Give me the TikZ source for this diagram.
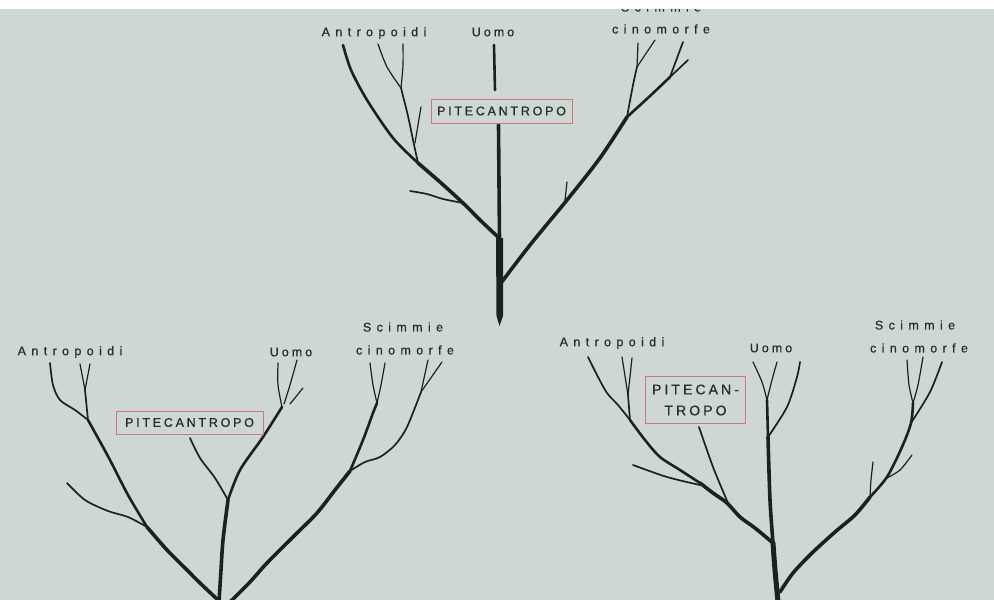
\documentclass[tikz,border=0pt]{standalone}
\usepackage{fontspec}
\newfontfamily\lblfont[LetterSpace=43,FakeBold=0.7]{Liberation Sans}
\newfontfamily\uomofont[LetterSpace=24,FakeBold=0.7]{Liberation Sans}
\newfontfamily\boxfont[LetterSpace=22,FakeBold=0.7]{Liberation Sans}
\definecolor{bg}{RGB}{206,215,211}
\definecolor{ink}{RGB}{26,34,31}
\definecolor{txt}{RGB}{40,45,43}
\definecolor{boxc}{RGB}{205,120,128}
\tikzset{
  trunkline/.style={draw=ink,line width=5pt,line cap=round,line join=round},
  limb/.style={draw=ink,line width=3.6pt,line cap=round,line join=round},
  bough/.style={draw=ink,line width=2.6pt,line cap=round,line join=round},
  twig/.style={draw=ink,line width=1.7pt,line cap=round,line join=round},
  tipline/.style={draw=ink,line width=1.2pt,line cap=round,line join=round},
  lbl/.style={inner sep=0pt,text=txt,font=\lblfont\fontsize{12.5}{14}\selectfont},
  ulbl/.style={inner sep=0pt,text=txt,font=\uomofont\fontsize{12.5}{14}\selectfont},
  pbox/.style={draw=boxc,line width=0.9pt,fill=bg,text=txt,inner sep=0pt,font=\boxfont\fontsize{12.5}{14}\selectfont,align=center}
}
\begin{document}
\begin{tikzpicture}[x=1pt,y=-1pt]
\useasboundingbox (0,0) rectangle (994,600);
\fill[bg] (0,0) rectangle (994,600);

% ---------------- top tree ----------------
\fill[ink] (496,238) -- (496.5,316) -- (499.5,326) -- (503,316) -- (503,238) -- cycle;
\draw[limb] (499.5,240) -- (498.5,125);
\draw[bough] (495,90) -- (494,45);
% right
\draw[limb] plot[smooth] coordinates {(501,283) (530,245) (567,200) (600,158) (627,117)};
\draw[bough] plot[smooth] coordinates {(627,117) (650,96) (670,77)};
\draw[twig] (670,77) -- (683,42);
\draw[twig] (670,77) -- (688,60);
\draw[twig] plot[smooth] coordinates {(627,117) (633,85) (637,67)};
\draw[tipline] (637,67) -- (638,43);
\draw[tipline] (637,67) -- (655,40);
\draw[tipline] (565,200) -- (567,182);
% left
\draw[limb] plot[smooth] coordinates {(498,237) (480,220) (463,203) (440,182) (418,163)};
\draw[bough] plot[smooth] coordinates {(418,163) (393,138) (367,100) (351,70) (343,45)};
\draw[twig] plot[smooth] coordinates {(463,203) (443,199) (427,194) (410,191)};
\draw[twig] plot[smooth] coordinates {(418,163) (413,140) (408,116) (401,88)};
\draw[tipline] plot[smooth] coordinates {(401,88) (403,65) (403,44)};
\draw[tipline] plot[smooth] coordinates {(401,88) (387,67) (378,44)};
\draw[tipline] plot[smooth] coordinates {(415,143) (418,125) (421,107)};

\node[pbox,minimum width=141pt,minimum height=24pt] (p1) at (501.5,111) {PITECANTROPO};
\node[lbl] (a1) at (374,33) {Antropoidi};
\node[ulbl] (u1) at (493,32) {Uomo};
\node[lbl] (s1) at (661,7) {Scimmie};
\node[lbl] (c1) at (661,29) {cinomorfe};
\fill[white] (0,0) rectangle (994,9);

% ---------------- bottom-left tree ----------------
\draw[limb] plot[smooth] coordinates {(218,600) (200,583) (187,570) (167,550) (147,527)};
\draw[bough] plot[smooth] coordinates {(147,527) (128,495) (110,460) (98,438) (88,420)};
\draw[twig] plot[smooth] coordinates {(88,420) (75,410) (60,400) (53,385) (50,363)};
\draw[twig] plot[smooth] coordinates {(147,527) (128,517) (108,511) (85,500) (67,483)};
\draw[twig] (88,420) -- (85,390);
\draw[tipline] (85,390) -- (80,364);
\draw[tipline] (85,390) -- (90,364);
\draw[limb] plot[smooth] coordinates {(219,602) (221,570) (223,540) (228,500)};
\draw[bough] plot[smooth] coordinates {(228,500) (240,470) (263,437) (282,407)};
\draw[twig] plot[smooth] coordinates {(228,500) (215,478) (200,458) (190,438)};
\draw[tipline] plot[smooth] coordinates {(282,407) (278,385) (278,363)};
\draw[tipline] plot[smooth] coordinates {(284,404) (290,385) (297,360)};
\draw[tipline] (290,404) -- (303,388);
\draw[limb] plot[smooth] coordinates {(230,602) (250,582) (267,563) (295,535) (317,513) (335,490) (350,471)};
\draw[bough] plot[smooth] coordinates {(350,471) (363,440) (373,413) (377,403)};
\draw[tipline] plot[smooth] coordinates {(377,403) (373,385) (370,363)};
\draw[tipline] plot[smooth] coordinates {(377,403) (381,385) (385,363)};
\draw[twig] plot[smooth] coordinates {(350,471) (365,462) (380,457) (395,445) (407,427) (421,392)};
\draw[tipline] (421,392) -- (428,360);
\draw[tipline] (421,392) -- (442,362);

\node[pbox,minimum width=147pt,minimum height=23pt] (p2) at (189.5,422.5) {PITECANTROPO};
\node[lbl] (a2) at (70,352) {Antropoidi};
\node[ulbl] (u2) at (291,352) {Uomo};
\node[lbl] (s2) at (403,327) {Scimmie};
\node[lbl] (c2) at (405,350) {cinomorfe};

% ---------------- bottom-right tree ----------------
\draw[trunkline] plot[smooth] coordinates {(778,602) (775,570) (773,543)};
\draw[limb] plot[smooth] coordinates {(773,543) (770,500) (768,437)};
\draw[bough] (768,437) -- (767,400);
\draw[tipline] plot[smooth] coordinates {(767,400) (762,382) (753,362)};
\draw[tipline] plot[smooth] coordinates {(767,400) (772,380) (777,362)};
\draw[twig] plot[smooth] coordinates {(768,437) (787,407) (797,377) (800,362)};
\draw[limb] plot[smooth] coordinates {(773,543) (755,528) (740,517) (727,503) (713,493) (700,483)};
\draw[bough] plot[smooth] coordinates {(700,483) (680,470) (660,457) (645,440) (630,420)};
\draw[twig] plot[smooth] coordinates {(630,420) (618,405) (607,393) (597,375) (588,357)};
\draw[twig] plot[smooth] coordinates {(728,503) (713,467) (699,427)};
\draw[twig] plot[smooth] coordinates {(700,485) (667,477) (633,465)};
\draw[twig] (630,420) -- (628,395);
\draw[tipline] (628,395) -- (622,357);
\draw[tipline] (628,395) -- (632,358);
\draw[limb] plot[smooth] coordinates {(780,592) (793,573) (812,553) (835,532) (855,515) (870,497)};
\draw[bough] plot[smooth] coordinates {(870,497) (887,477) (902,447) (911,423) (913,403)};
\draw[tipline] plot[smooth] coordinates {(913,403) (909,385) (907,360)};
\draw[tipline] plot[smooth] coordinates {(913,403) (918,385) (923,357)};
\draw[twig] plot[smooth] coordinates {(911,423) (930,392) (942,362)};
\draw[tipline] plot[smooth] coordinates {(870,497) (871,480) (873,462)};
\draw[tipline] plot[smooth] coordinates {(887,478) (900,470) (912,455)};

\node[pbox,minimum width=100pt,minimum height=47pt,font=\boxfont\fontsize{14}{21}\selectfont] (p3) at (695.5,400) {PITECAN-\\TROPO};
\node[lbl] (a3) at (612,343) {Antropoidi};
\node[ulbl] (u3) at (771,348) {Uomo};
\node[lbl] (s3) at (915,325) {Scimmie};
\node[lbl] (c3) at (919,348) {cinomorfe};
\end{tikzpicture}
\end{document}
